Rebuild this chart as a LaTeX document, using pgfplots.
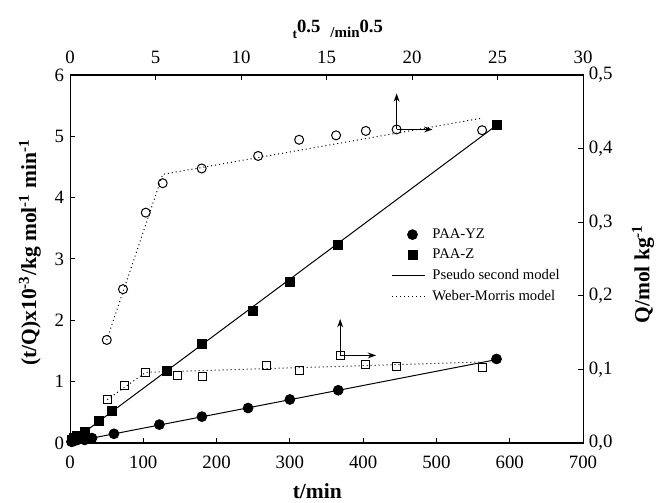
\documentclass[border=0pt]{standalone}
\usepackage{pgfplots}
\pgfplotsset{compat=1.18}
\usepackage{fontspec}
\setmainfont{Liberation Serif}
\usetikzlibrary{arrows.meta}
\pgfplotsset{
  markleg/.style={legend image code/.code={\draw[mark repeat=2,mark phase=2,##1] plot coordinates {(0pt,0pt) (12pt,0pt) (19.8pt,0pt)};}},
  lineleg/.style={legend image code/.code={\draw[##1] (0pt,0pt) -- (19.8pt,0pt);}},
}
\begin{document}
\begin{tikzpicture}
\useasboundingbox (-42pt,-36pt) rectangle (353.4pt,265.8pt);
\pgfplotsset{
  common/.style={
    width=307.8pt, height=220.8pt, scale only axis,
    at={(0pt,0pt)}, anchor=south west,
    tick align=inside, major tick length=3pt,
    axis line style={line width=0.6pt},
    every tick/.style={line width=0.6pt, black},
    tick label style={font=\fontsize{11.3}{12}\selectfont},
    /pgf/number format/assume math mode=true,
    clip=false,
  }
}
% ---------- bottom / left axis ----------
\begin{axis}[common,
  xmin=0, xmax=700, ymin=0, ymax=6,
  xtick={0,100,...,700}, ytick={0,1,...,6},
  xtick pos=bottom, ytick pos=left,
  xticklabel style={yshift=-4pt},
  xlabel={\bfseries t/min},
  xlabel style={at={(axis description cs:0.482,-0.132)}, anchor=center, font=\fontsize{12.9}{14}\selectfont},
  ylabel={\bfseries (t/Q)x10\textsuperscript{-3}/kg mol\textsuperscript{-1} min\textsuperscript{-1}},
  ylabel style={at={(axis description cs:-0.078,0.518)}, anchor=center, font=\fontsize{12.9}{14}\selectfont},
  legend style={at={(axis description cs:0.627,0.592)}, anchor=north west,
    draw=none, fill=none, inner sep=0pt,
    font=\fontsize{8.8}{10}\selectfont,
    nodes={inner sep=1.5pt, text height=6.2pt, text depth=1.8pt},
    row sep=1.4pt, column sep=2.4pt},
  legend cell align=left,
]
% pseudo second order lines
\addplot[black, line width=0.6pt, forget plot] coordinates {(2,0.02) (582,5.18)};
\addplot[black, line width=0.6pt, forget plot] coordinates {(0,0.01) (582,1.36)};
% PAA-YZ
\addplot[only marks, mark=*, mark size=3pt, black, mark options={fill=black}, markleg]
 coordinates {(2,0.02) (5,0.03) (10,0.05) (20,0.05) (30,0.08) (60,0.15) (122,0.30) (180,0.43) (243,0.57) (300,0.71) (366,0.86) (582,1.37)};
\addlegendentry{PAA-YZ}
% PAA-Z
\addplot[only marks, mark=square*, mark size=2.7pt, black, mark options={fill=black}, markleg]
 coordinates {(2,0.05) (5,0.08) (10,0.11) (20,0.18) (40,0.36) (57,0.52) (132,1.18) (180,1.62) (250,2.15) (300,2.62) (366,3.23) (582,5.18)};
\addlegendentry{PAA-Z}
\addlegendimage{black, line width=0.6pt, lineleg}
\addlegendentry{Pseudo second model}
\addlegendimage{black, line width=0.6pt, dash pattern=on 0.6pt off 1.8pt, lineleg}
\addlegendentry{Weber-Morris model}
\end{axis}
% ---------- top / right axis ----------
\begin{axis}[common,
  xmin=0, xmax=30, ymin=0, ymax=0.5,
  xtick={0,5,...,30}, ytick={0,0.1,...,0.5},
  xtick pos=top, ytick pos=right,
  xticklabel style={yshift=3pt},
  yticklabel style={/pgf/number format/.cd, fixed, fixed zerofill, precision=1, use comma},
  ylabel={\bfseries Q/mol kg\textsuperscript{-1}},
  ylabel style={at={(axis description cs:1.117,0.459)}, anchor=center, rotate=0, font=\fontsize{12.9}{14}\selectfont},
]
% Weber-Morris lines
\addplot[black, line width=0.6pt, dash pattern=on 0.6pt off 1.8pt] coordinates {(2.15,0.140) (5.42,0.365) (24.0,0.441)};
\addplot[black, line width=0.6pt, dash pattern=on 0.6pt off 1.8pt] coordinates {(2.18,0.059) (4.43,0.096) (24.0,0.110)};
% open circles
\addplot[only marks, mark=o, mark size=2.7pt, black, mark options={fill=white, line width=0.6pt}]
 coordinates {(2.15,0.140) (3.1,0.209) (4.43,0.313) (5.42,0.353) (7.7,0.373) (11.0,0.390) (13.4,0.412) (15.56,0.418) (17.3,0.424) (19.1,0.426) (24.1,0.425)};
% open squares
\addplot[only marks, mark=square, mark size=2.4pt, black, mark options={fill=white, line width=0.6pt}]
 coordinates {(2.18,0.059) (3.16,0.078) (4.43,0.096) (6.3,0.0915) (7.72,0.090) (11.5,0.105) (13.4,0.099) (15.8,0.119) (17.3,0.106) (19.1,0.104) (24.1,0.103)};
% axis indicator arrows
\addplot[black, line width=0.6pt, -{Stealth[length=5pt,width=3.5pt]}] coordinates {(19.1,0.426) (19.1,0.475)};
\addplot[black, line width=0.6pt, -{Stealth[length=5pt,width=3.5pt]}] coordinates {(19.1,0.426) (21.2,0.426)};
\addplot[black, line width=0.6pt, -{Stealth[length=5pt,width=3.5pt]}] coordinates {(15.8,0.119) (15.8,0.1685)};
\addplot[black, line width=0.6pt, -{Stealth[length=5pt,width=3.5pt]}] coordinates {(15.8,0.119) (17.9,0.119)};
% top label
\node[anchor=base] at (axis description cs:0.522,1.115)
 {\raisebox{-3.5pt}{\fontsize{8}{8}\selectfont\bfseries t}{\fontsize{11.2}{12}\selectfont\bfseries 0.5}\hspace{6pt}\raisebox{-3pt}{\fontsize{9}{9}\selectfont\bfseries /min}{\fontsize{11.2}{12}\selectfont\bfseries 0.5}};
\end{axis}
\end{tikzpicture}
\end{document}
